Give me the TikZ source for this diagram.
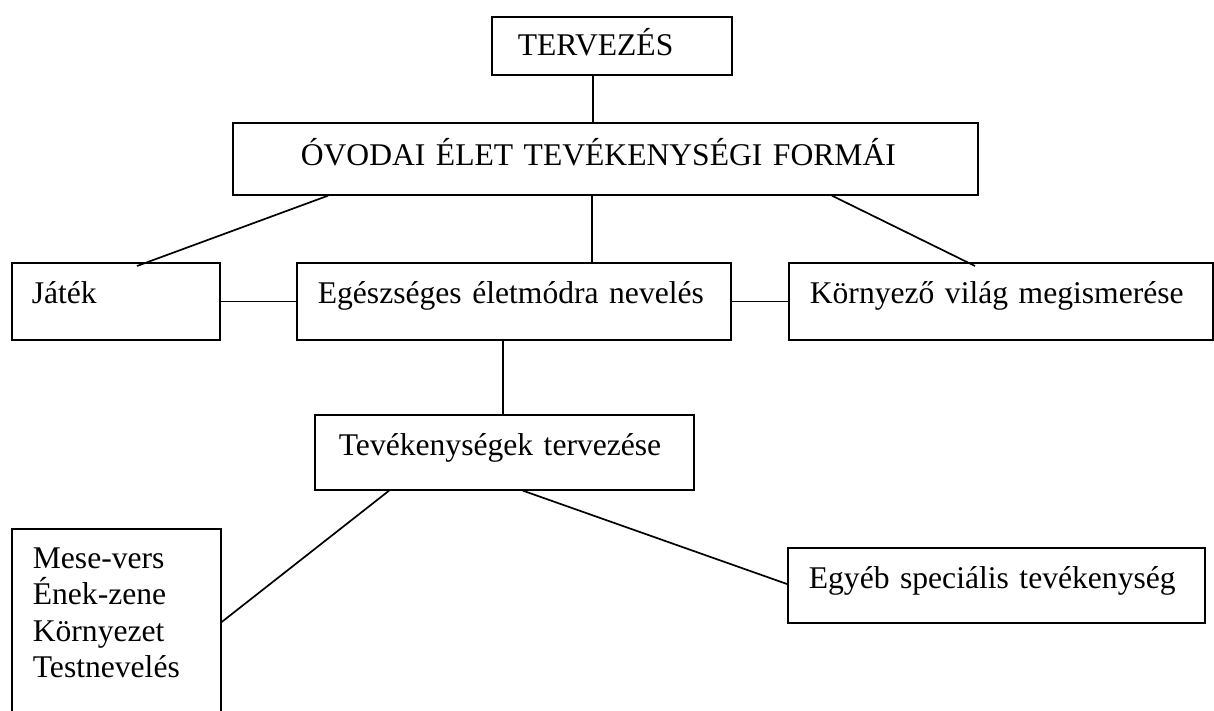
\documentclass[tikz,border=0pt]{standalone}
\usepackage{fontspec}
\setmainfont{Liberation Serif}
\begin{document}
\begin{tikzpicture}[x=1pt,y=-1pt,
  box/.style={draw, line width=1.7pt, anchor=north west, inner sep=0pt, align=left,
    font=\fontsize{31.6}{36.5}\selectfont},
  link/.style={line width=1.7pt}]
\clip (0,0) rectangle (1214,711);
\node[box, minimum width=240pt, minimum height=58pt, text width=240pt, text height=28pt, text depth=8pt] (terv) at (491,16) {\hspace*{26pt}TERVEZÉS};
\node[box, minimum width=745pt, minimum height=72pt, text width=745pt, text height=22pt, text depth=8pt] (ovo) at (232,122) {\hspace*{68pt}ÓVODAI ÉLET TEVÉKENYSÉGI FORMÁI};
\node[box, minimum width=208pt, minimum height=77pt, text width=208pt, text height=12pt, text depth=8pt] (jat) at (11,262) {\hspace*{20pt}Játék};
\node[box, minimum width=434pt, minimum height=77pt, text width=434pt, text height=12pt, text depth=8pt] (egesz) at (296,262) {\hspace*{21pt}Egészséges életmódra nevelés};
\node[box, minimum width=424pt, minimum height=77pt, text width=424pt, text height=12pt, text depth=8pt] (korny) at (788,262) {\hspace*{21pt}Környező világ megismerése};
\node[box, minimum width=379pt, minimum height=75pt, text width=379pt, text height=15pt, text depth=8pt] (tev) at (314,414) {\hspace*{24pt}Tevékenységek tervezése};
\node[box, minimum width=209pt, minimum height=204pt, text width=209pt] (mese) at (11,528) {\hspace*{21pt}Mese-vers\\\hspace*{21pt}Ének-zene\\\hspace*{21pt}Környezet\\\hspace*{21pt}Testnevelés\\\mbox{}};
\node[box, minimum width=417pt, minimum height=75pt, text width=417pt, text height=15pt, text depth=8pt] (egyeb) at (787,547) {\hspace*{21pt}Egyéb speciális tevékenység};
\draw[link] ([xshift=102pt]terv.south west) -- ([xshift=361pt]ovo.north west);
\draw[link] ([xshift=96pt]ovo.south west) -- ([xshift=126pt,yshift=-4pt]jat.north west);
\draw[link] ([xshift=360pt]ovo.south west) -- ([xshift=296pt]egesz.north west);
\draw[link] ([xshift=600pt]ovo.south west) -- ([xshift=187pt,yshift=-4pt]korny.north west);
\draw[link] (jat.east) -- (egesz.west);
\draw[link] (egesz.east) -- (korny.west);
\draw[link] ([xshift=207pt]egesz.south west) -- ([xshift=189pt]tev.north west);
\draw[link] ([xshift=75pt]tev.south west) -- ([yshift=-94pt]mese.north east);
\draw[link] ([xshift=209pt]tev.south west) -- ([yshift=-37pt]egyeb.north west);
\end{tikzpicture}
\end{document}
